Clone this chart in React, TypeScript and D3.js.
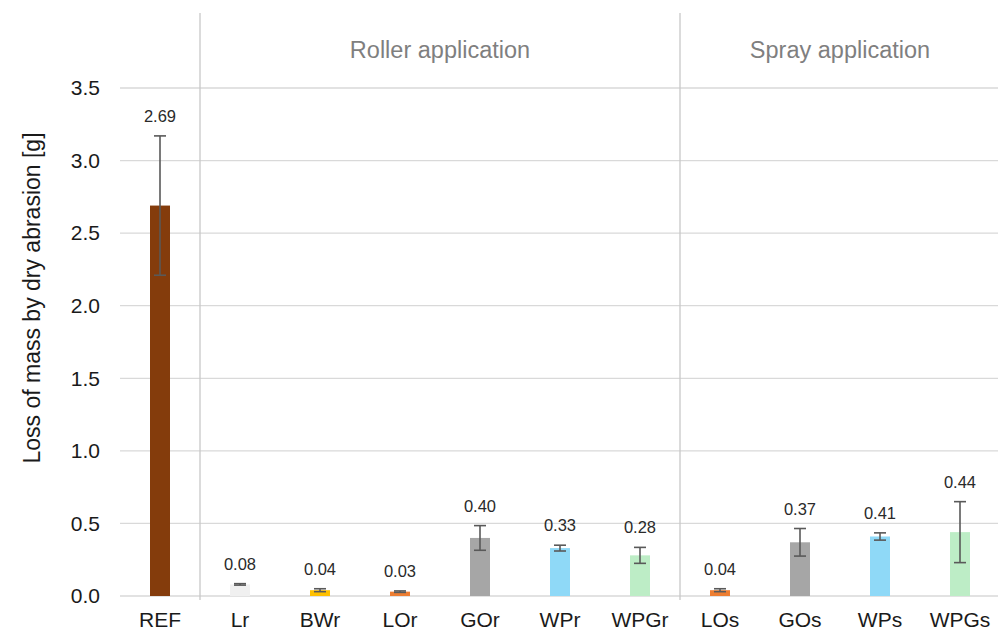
import * as d3 from "d3";
import { useEffect, useRef } from "react";

const categories = ["REF", "Lr", "BWr", "LOr", "GOr", "WPr", "WPGr", "LOs", "GOs", "WPs", "WPGs"];
const values = [2.69, 0.08, 0.04, 0.03, 0.4, 0.33, 0.28, 0.04, 0.37, 0.41, 0.44];
const errors = [0.48, 0.005, 0.01, 0.005, 0.085, 0.02, 0.055, 0.01, 0.095, 0.025, 0.21];
const colors = [
  "#843c0c",
  "#f0f0f0",
  "#ffc000",
  "#ed7d31",
  "#a6a6a6",
  "#8fd9f7",
  "#bdedc6",
  "#ed7d31",
  "#a6a6a6",
  "#8fd9f7",
  "#bdedc6",
];
const yTicks = [0, 0.5, 1.0, 1.5, 2.0, 2.5, 3.0, 3.5];
const groups = [
  { label: "Roller application", from: "Lr", to: "WPGr" },
  { label: "Spray application", from: "LOs", to: "WPGs" },
];

const width = 998;
const height = 635;

export default function App() {
  const svgRef = useRef<SVGSVGElement>(null);

  useEffect(() => {
    if (!svgRef.current) return;
    const svg = d3.select(svgRef.current);
    svg.selectAll("*").remove();

    const margin = { top: 88, right: 0, bottom: 39, left: 120 };
    const font = "'Liberation Sans', Arial, sans-serif";

    const x = d3
      .scaleBand<string>()
      .domain(categories)
      .range([margin.left, 1000])
      .paddingInner(0.75)
      .paddingOuter(0.375);
    // band step used for separators
    const step = x.step();

    const y = d3
      .scaleLinear()
      .domain([0, 3.5])
      .range([height - margin.bottom, margin.top]);

    const data = categories.map((c, i) => ({
      name: c,
      value: values[i],
      err: errors[i],
      color: colors[i],
    }));

    // Grid lines
    svg
      .append("g")
      .selectAll("line")
      .data(yTicks)
      .enter()
      .append("line")
      .attr("x1", margin.left)
      .attr("x2", width)
      .attr("y1", (d) => y(d))
      .attr("y2", (d) => y(d))
      .style("stroke", "#d9d9d9")
      .style("stroke-width", 1.3);

    // Y tick labels
    svg
      .append("g")
      .selectAll("text")
      .data(yTicks)
      .enter()
      .append("text")
      .attr("x", 100)
      .attr("y", (d) => y(d))
      .attr("dy", "0.35em")
      .attr("text-anchor", "end")
      .style("font-family", font)
      .style("font-size", "21px")
      .style("fill", "#1a1a1a")
      .text((d) => d3.format(".1f")(d));

    // Group separators
    groups.forEach((g) => {
      const sx = (x(g.from) as number) - (step - x.bandwidth()) / 2;
      svg
        .append("line")
        .attr("x1", sx)
        .attr("x2", sx)
        .attr("y1", 13)
        .attr("y2", 600)
        .style("stroke", "#c8c8c8")
        .style("stroke-width", 1.3);
      const ex = (x(g.to) as number) + x.bandwidth() + (step - x.bandwidth()) / 2;
      svg
        .append("text")
        .attr("x", (sx + ex) / 2)
        .attr("y", 58)
        .attr("text-anchor", "middle")
        .style("font-family", font)
        .style("font-size", "23.5px")
        .style("fill", "#7f7f7f")
        .text(g.label);
    });

    // Bars
    svg
      .append("g")
      .selectAll("rect")
      .data(data)
      .enter()
      .append("rect")
      .attr("x", (d) => x(d.name) as number)
      .attr("y", (d) => y(d.value))
      .attr("width", x.bandwidth())
      .attr("height", (d) => y(0) - y(d.value))
      .style("fill", (d) => d.color);

    // Error bars
    const eb = svg.append("g").style("stroke", "#595959").style("stroke-width", 1.6);
    data.forEach((d) => {
      const cx = (x(d.name) as number) + x.bandwidth() / 2;
      const top = y(d.value + d.err);
      const bot = y(d.value - d.err);
      eb.append("line").attr("x1", cx).attr("x2", cx).attr("y1", top).attr("y2", bot);
      eb.append("line").attr("x1", cx - 6).attr("x2", cx + 6).attr("y1", top).attr("y2", top);
      eb.append("line").attr("x1", cx - 6).attr("x2", cx + 6).attr("y1", bot).attr("y2", bot);
    });

    // Value labels
    svg
      .append("g")
      .selectAll("text")
      .data(data)
      .enter()
      .append("text")
      .attr("x", (d) => (x(d.name) as number) + x.bandwidth() / 2)
      .attr("y", (d) => y(d.value + d.err) - 14)
      .attr("text-anchor", "middle")
      .style("font-family", font)
      .style("font-size", "16.5px")
      .style("fill", "#2a2a2a")
      .text((d) => d3.format(".2f")(d.value));

    // Category labels
    svg
      .append("g")
      .selectAll("text")
      .data(categories)
      .enter()
      .append("text")
      .attr("x", (d) => (x(d) as number) + x.bandwidth() / 2)
      .attr("y", 627)
      .attr("text-anchor", "middle")
      .style("font-family", font)
      .style("font-size", "21px")
      .style("fill", "#1a1a1a")
      .text((d) => d);

    // Axis title
    svg
      .append("text")
      .attr("transform", `translate(40, 298) rotate(-90)`)
      .attr("text-anchor", "middle")
      .style("font-family", font)
      .style("font-size", "23px")
      .style("fill", "#1a1a1a")
      .text("Loss of mass by dry abrasion [g]");
  }, []);

  return (
    <svg
      ref={svgRef}
      width={width}
      height={height}
      style={{ position: "absolute", left: 0, top: 0, background: "#fff" }}
    />
  );
}
